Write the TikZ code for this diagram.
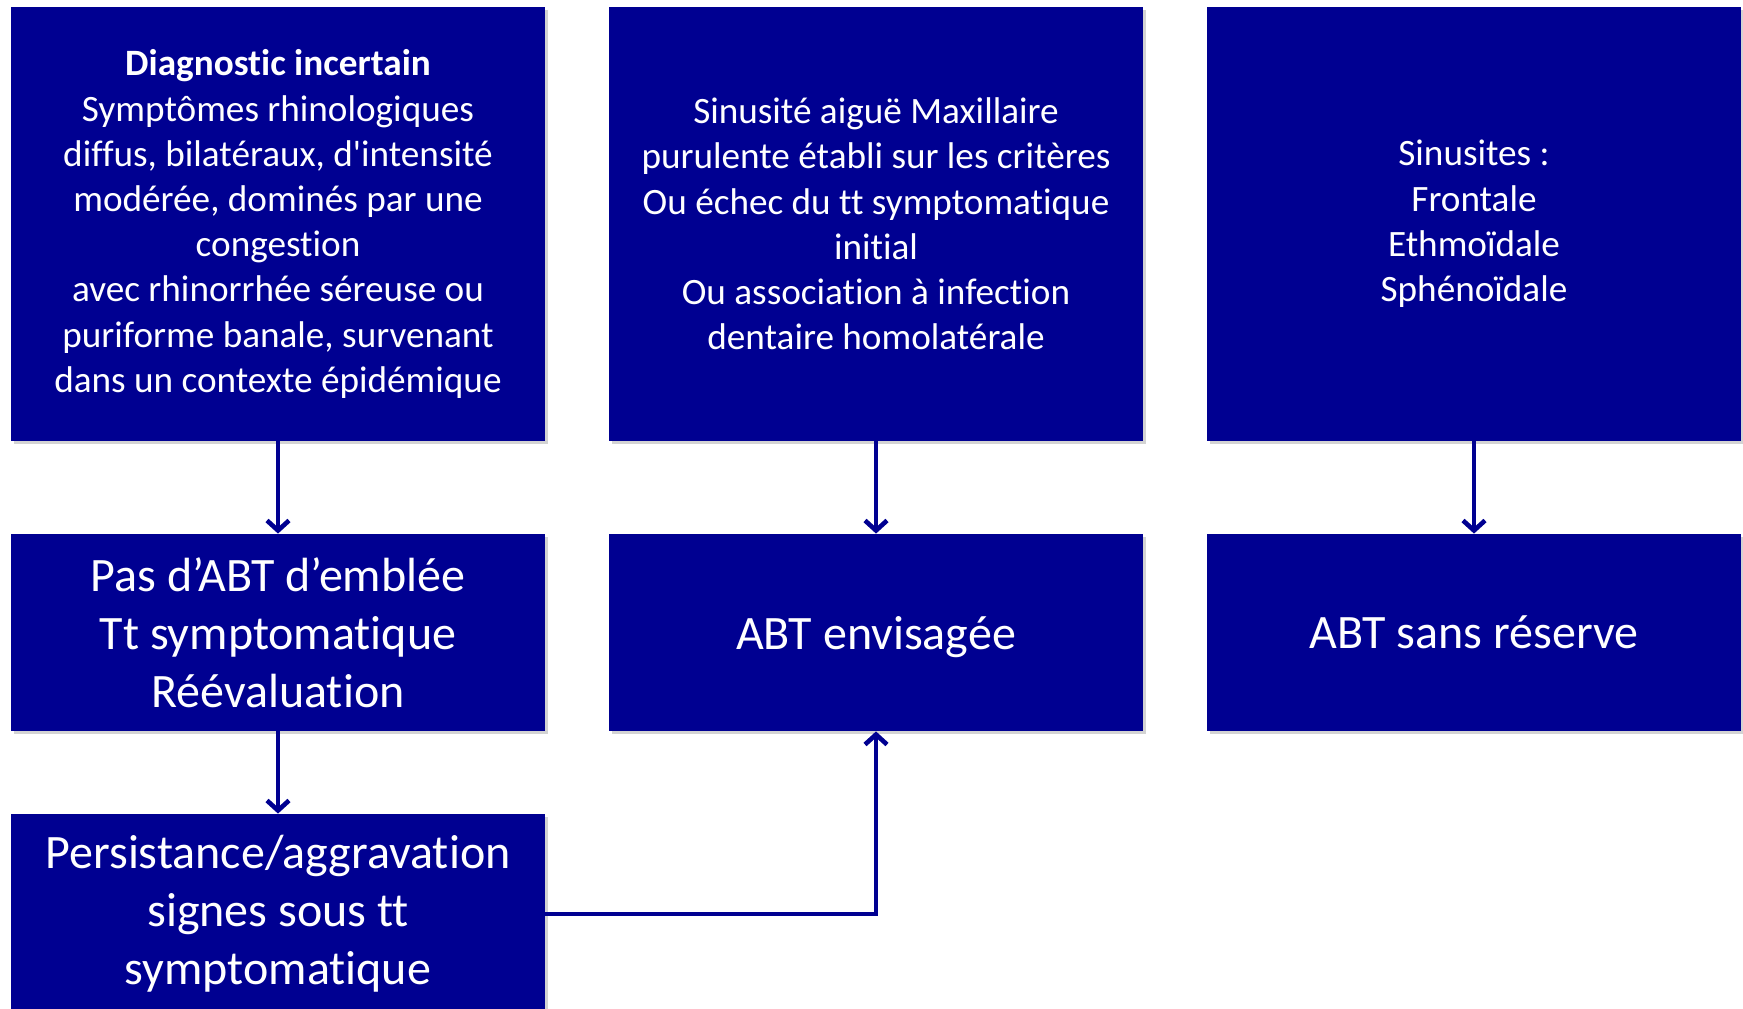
\documentclass[tikz,border=0pt]{standalone}
\usepackage{fontspec}
\setmainfont{Carlito}[Ligatures={TeX,NoCommon}]
\usepackage{xcolor}
\usetikzlibrary{arrows.meta,shadows}
\definecolor{ndblue}{RGB}{0,0,145}

\begin{document}
\begin{tikzpicture}[x=0.5pt, y=0.5pt,
    box/.style={fill=ndblue, text=white, align=center, inner sep=0pt,
      minimum width=267pt, drop shadow={shadow xshift=1.5pt, shadow yshift=-1.5pt, opacity=0.35}},
    small/.style={font=\fontsize{18.6}{22.6}\selectfont},
    big/.style={font=\fontsize{24}{29}\selectfont},
    arr/.style={draw=ndblue, line width=2.3pt, -{Straight Barb[length=5pt, width=11pt, line width=2.3pt]}}]
      \useasboundingbox (0,0) rectangle (1743,1008);
      % top row
      \node[box, small, minimum height=217pt] (diag) at (278,784)
        {\textbf{Diagnostic incertain}\\ Symptômes rhinologiques\\ diffus, bilatéraux, d\textquotesingle intensité\\
         modérée, dominés par une\\ congestion\\ avec rhinorrhée séreuse ou\\
         puriforme banale, survenant\\ dans un contexte épidémique};
      \node[box, small, minimum height=217pt] (maxi) at (876,784)
        {Sinusité aiguë Maxillaire\\ purulente établi sur les critères\\ Ou échec du tt symptomatique\\
         initial\\ Ou association à infection\\ dentaire homolatérale};
      \node[box, small, minimum height=217pt] (autres) at (1474,784)
        {Sinusites :\\ Frontale\\ Ethmoïdale\\ Sphénoïdale};
      % middle row
      \node[box, big, minimum height=98.5pt] (pasabt) at (278,375.5)
        {Pas d’ABT d’emblée\\ Tt symptomatique\\ Réévaluation};
      \node[box, big, minimum height=98.5pt, text depth=0pt] (envis) at (876,375.5) {ABT envisagée};
      \node[box, big, minimum height=98.5pt] (sansres) at (1474,375.5) {ABT sans réserve};
      % bottom row
      \node[box, big, minimum height=100pt] (persist) at (278,94)
        {Persistance/aggravation\\ signes sous tt\\ symptomatique};
      \draw[arr] (diag.south) -- (pasabt.north);
      \draw[arr] (maxi.south) -- (envis.north);
      \draw[arr] (autres.south) -- (sansres.north);
      \draw[arr] (pasabt.south) -- (persist.north);
      \draw[arr] (persist.east) -| (envis.south);
    \end{tikzpicture}
\end{document}
